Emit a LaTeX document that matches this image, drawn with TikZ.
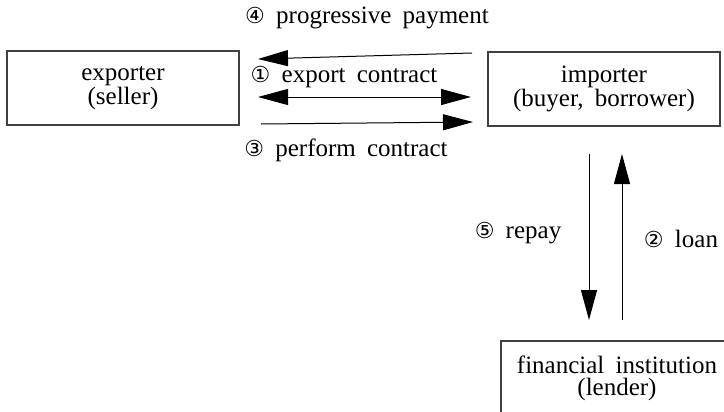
\documentclass[tikz,border=0pt]{standalone}
\usepackage{fontspec}
\setmainfont[WordSpace=1.8]{Liberation Serif}
\newfontfamily\circfont{DejaVu Sans}
\usetikzlibrary{arrows.meta}
\newcommand{\circnum}[1]{{\circfont\fontsize{11}{11}\selectfont #1}}

\begin{document}
\begin{tikzpicture}[x = 0.5pt, y = -0.5pt,
    party/.style = {draw = black!75, line width = 0.6pt, minimum width = 116pt, minimum height = 37pt,
                    inner sep = 0pt, align = center, font = \fontsize{12.5}{11}\selectfont},
    flow/.style = {draw, line width = 0.5pt, -{Triangle[length = 15pt, width = 8pt]}},
    lbl/.style = {inner sep = 0pt, font = \fontsize{12.5}{11}\selectfont}]
        \useasboundingbox(0,0)rectangle(724,412);
        \clip(0,0)rectangle(724,412);
        % boxes
        \node[party](exporter)at(123,88){exporter\\(seller)};
        \node[party](importer)at(604,89){importer\\(buyer, borrower)};
        \node[party](lender)at(617,378){financial institution\\(lender)};
        % arrow ends
        \coordinate(pay s)at(472,53);
        \coordinate(pay e)at(258,59);
        \coordinate(con s)at(258,97);
        \coordinate(con e)at(471,97);
        \coordinate(per s)at(261,124);
        \coordinate(per e)at(473,122);
        \coordinate(rep s)at(589,154);
        \coordinate(rep e)at(589,320);
        \coordinate(loan s)at(622,320);
        \coordinate(loan e)at(622,154);
        % arrows
        \path[flow](pay s)to(pay e);
        \path[flow, {Triangle[length = 15pt, width = 8pt]}-{Triangle[length = 15pt, width = 8pt]}](con s)to(con e);
        \path[flow](per s)to(per e);
        \path[flow](rep s)to(rep e);
        \path[flow](loan s)to(loan e);
        % labels
        \node[lbl](pay)at(367,18){\circnum{④} progressive payment};
        \node[lbl](con)at(344,77){\circnum{①} export contract};
        \node[lbl](per)at(346,150){\circnum{③} perform contract};
        \node[lbl](rep)at(518,233){\circnum{⑤} repay};
        \node[lbl](loan)at(681,239){\circnum{②} loan};
\end{tikzpicture}
\end{document}
